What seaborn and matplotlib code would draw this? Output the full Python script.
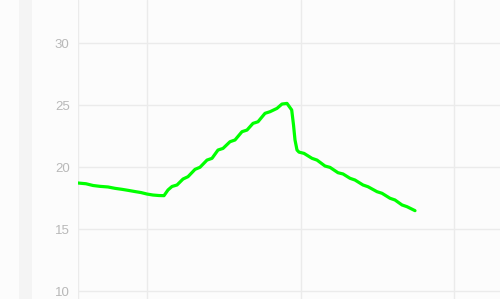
import matplotlib
matplotlib.use("Agg")
import matplotlib.pyplot as plt
import seaborn as sns
import pandas as pd
from matplotlib.patches import Rectangle

# x positions (arbitrary time units) and values
t = [0, 8, 15, 22, 30, 37, 44, 50, 57, 63, 69, 75, 81, 86,
     90, 94, 99, 105, 110, 117, 122, 129, 134, 140, 145, 152, 157,
     164, 169, 175, 180, 187, 192, 199, 204, 209, 213.7, 215.5, 217, 219, 221,
     226, 234, 239, 247, 252, 260, 265, 272, 277, 285, 290, 299, 304,
     312, 317, 324, 329, 337]
values = [18.71, 18.65, 18.51, 18.44, 18.39, 18.28, 18.20, 18.12, 18.02, 17.94, 17.82, 17.74, 17.70, 17.69,
          18.15, 18.43, 18.55, 19.03, 19.22, 19.81, 19.98, 20.56, 20.70, 21.37, 21.50, 22.04, 22.18,
          22.85, 22.98, 23.52, 23.65, 24.33, 24.46, 24.73, 25.08, 25.13, 24.60, 23.40, 22.18, 21.37, 21.20,
          21.10, 20.70, 20.56, 20.08, 19.97, 19.54, 19.44, 19.09, 18.95, 18.55, 18.41, 18.01, 17.88,
          17.48, 17.34, 16.94, 16.80, 16.48]
y_ticks = [10, 15, 20, 25, 30]
x_grid = [0, 69, 222.5, 376]

df = pd.DataFrame({"t": t, "value": values})

sns.set_theme(style="white")
plt.rcParams["font.family"] = ["Liberation Sans", "DejaVu Sans"]

fig = plt.figure(figsize=(5.0, 2.99), dpi=100, facecolor="#fcfcfc")
fig.patches.append(Rectangle((19 / 500, 0), 13 / 500, 1, transform=fig.transFigure,
                             facecolor="#f4f4f4", edgecolor="none", zorder=0))
ax = fig.add_axes([78 / 500, 0, 422 / 500, 1])
ax.set_facecolor("#fcfcfc")

sns.lineplot(data=df, x="t", y="value", ax=ax, color="#00ff00", linewidth=2.3,
             solid_capstyle="round", solid_joinstyle="round", zorder=3)

ax.set_xlim(0, 422)
ax.set_ylim(9.355, 33.47)
ax.set_yticks(y_ticks)
ax.set_xticks(x_grid)
ax.set_xticklabels([])
ax.grid(True, color="#ebebeb", linewidth=1.0)
ax.tick_params(axis="both", length=0)
ax.tick_params(axis="y", labelsize=9.5, labelcolor="#b8b8b8", pad=6)
ax.set_xlabel("")
ax.set_ylabel("")
for s in ax.spines.values():
    s.set_visible(False)

fig.savefig("out.png", dpi=100, facecolor=fig.get_facecolor())
